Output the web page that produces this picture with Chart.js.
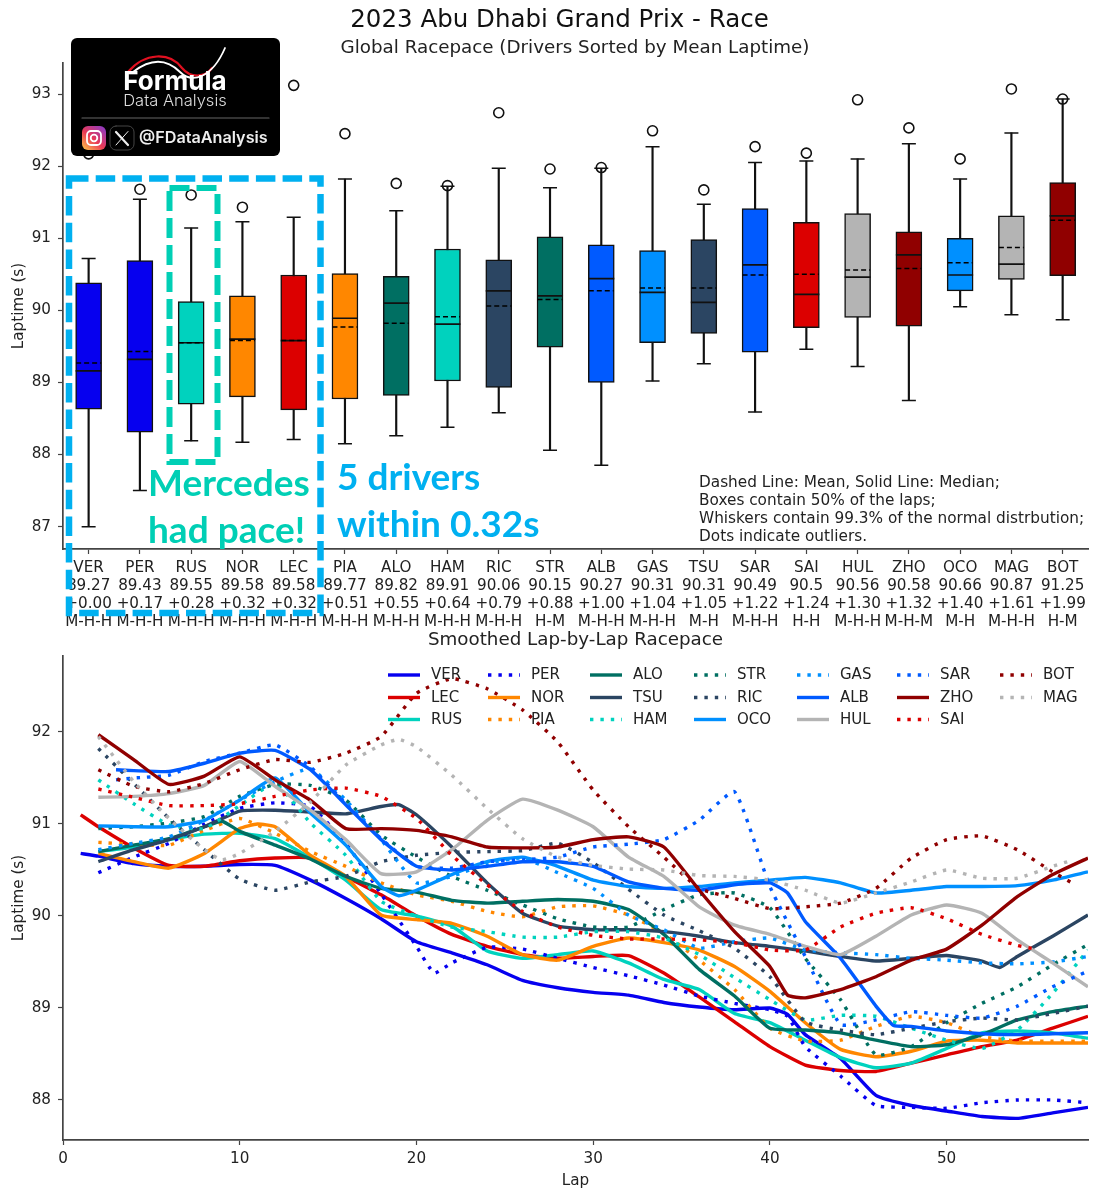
<!DOCTYPE html>
<html>
<head>
<meta charset="utf-8">
<title>2023 Abu Dhabi Grand Prix - Race</title>
<script src="https://cdn.jsdelivr.net/npm/chart.js@4"></script>
<style>
  html, body { margin: 0; padding: 0; background: #fff; }
  #page { position: relative; width: 1099px; height: 1200px; overflow: hidden; }
  /* a little wider than the page: the category axis keeps 15px free on its right */
  #boxWrap { position: absolute; left: 0; top: 0; width: 1103px; height: 632px; z-index: 2; }
  #lineWrap { position: absolute; left: 0; top: 628px; width: 1099px; height: 572px; z-index: 1; }
</style>
</head>
<body>
<div id="page">
  <div id="lineWrap"><canvas id="lineChart"></canvas></div>
  <div id="boxWrap"><canvas id="boxChart"></canvas></div>
</div>
<script>
// top panel, drivers sorted by mean laptime
const drivers = ["VER","PER","RUS","NOR","LEC","PIA","ALO","HAM","RIC","STR","ALB","GAS","TSU","SAR","SAI","HUL","ZHO","OCO","MAG","BOT"];
const meanLaps = [89.27,89.43,89.55,89.58,89.58,89.77,89.82,89.91,90.06,90.15,90.27,90.31,90.31,90.49,90.5,90.56,90.58,90.66,90.87,91.25];
const gaps = ["+0.00","+0.17","+0.28","+0.32","+0.32","+0.51","+0.55","+0.64","+0.79","+0.88","+1.00","+1.04","+1.05","+1.22","+1.24","+1.30","+1.32","+1.40","+1.61","+1.99"];
const strategies = ["M-H-H","M-H-H","M-H-H","M-H-H","M-H-H","M-H-H","M-H-H","M-H-H","M-H-H","H-M","M-H-H","M-H-H","M-H","M-H-H","H-H","M-H-H","M-H-M","M-H","M-H-H","H-M"];
const q1 = [88.63,88.31,88.70,88.80,88.62,88.77,88.82,89.02,88.93,89.49,89.00,89.55,89.68,89.42,89.76,89.90,89.78,90.27,90.43,90.48];
const q3 = [90.38,90.69,90.12,90.20,90.49,90.51,90.47,90.85,90.70,91.02,90.91,90.83,90.98,91.41,91.22,91.34,91.09,91.00,91.31,91.77];
const medians = [89.16,89.32,89.55,89.60,89.58,89.89,90.10,89.81,90.27,90.20,90.44,90.25,90.11,90.63,90.22,90.46,90.77,90.49,90.64,91.31];
const whiskLow = [87.00,87.50,88.19,88.17,88.21,88.15,88.26,88.38,88.58,88.06,87.85,89.02,89.26,88.59,89.46,89.22,88.75,90.05,89.94,89.87];
const whiskHigh = [90.72,91.54,91.14,91.23,91.29,91.82,91.38,91.72,91.97,91.70,91.97,92.27,91.47,92.05,92.07,92.10,92.31,91.82,92.46,92.93];
const outliers = [92.17,91.68,91.60,91.43,93.12,92.45,91.76,91.73,92.74,91.96,91.98,92.49,91.67,92.27,92.18,92.92,92.53,92.10,93.07,92.93];
const boxTicks = [87,88,89,90,91,92,93];

const teamColor = {
  VER:"#0600EF", PER:"#0600EF", RUS:"#00D2BE", HAM:"#00D2BE", NOR:"#FF8700", PIA:"#FF8700",
  LEC:"#DC0000", SAI:"#DC0000", ALO:"#006F62", STR:"#006F62", RIC:"#2B4562", TSU:"#2B4562",
  ALB:"#005AFF", SAR:"#005AFF", GAS:"#0090FF", OCO:"#0090FF", HUL:"#B4B4B4", MAG:"#B4B4B4",
  ZHO:"#900000", BOT:"#900000"
};

// bottom panel, smoothed pace read every second lap
const lapsEven = [2,4,6,8,10,12,14,16,18,20,22,24,26,28,30,32,34,36,38,40,42,44,46,48,50,52,54,56,58];
const paceVER = [90.65,90.57,90.54,90.54,90.56,90.55,90.39,90.19,89.97,89.72,89.6,89.47,89.3,89.22,89.17,89.14,89.06,89.01,88.98,89.0,88.71,88.45,88.05,87.94,87.88,87.82,87.8,87.86,87.92];
const paceLEC = [90.97,90.74,90.55,90.54,90.6,90.63,90.63,90.43,90.23,90.0,89.8,89.67,89.58,89.54,89.56,89.57,89.38,89.12,88.85,88.58,88.38,88.32,88.31,88.4,88.49,88.58,88.65,88.78,88.91];
const paceRUS = [90.7,90.75,90.83,90.89,90.9,90.84,90.63,90.39,90.07,90.0,89.89,89.62,89.54,89.58,89.62,89.49,89.31,89.2,88.94,88.84,88.65,88.46,88.35,88.4,88.56,88.73,88.75,88.73,88.67];
const pacePER = [90.47,90.64,90.79,91.0,91.17,91.23,91.19,90.79,90.24,89.67,89.49,89.66,89.64,89.54,89.44,89.35,89.25,89.13,89.05,88.98,88.58,88.26,87.94,87.92,87.91,87.97,88.0,88.0,87.97];
const paceNOR = [90.68,90.59,90.52,90.68,90.95,90.97,90.66,90.43,90.01,89.96,89.92,89.78,89.58,89.52,89.67,89.76,89.71,89.63,89.45,89.18,88.84,88.55,88.47,88.53,88.64,88.65,88.62,88.62,88.62];
const pacePIA = [90.8,90.78,90.77,90.93,91.06,90.9,90.7,90.54,90.36,90.23,90.16,90.05,89.99,90.1,90.11,90.01,89.81,89.52,89.2,88.78,88.64,88.65,88.8,88.91,88.84,88.69,88.64,88.64,88.64];
const paceALO = [90.7,90.77,90.84,90.97,90.92,90.77,90.62,90.43,90.3,90.26,90.17,90.14,90.16,90.18,90.16,90.07,89.8,89.42,89.13,88.78,88.76,88.73,88.65,88.58,88.6,88.71,88.87,88.96,89.02];
const paceTSU = [90.59,90.72,90.83,90.97,91.14,91.15,91.13,91.11,91.19,91.1,90.75,90.36,90.03,89.89,89.85,89.85,89.83,89.78,89.71,89.67,89.62,89.56,89.51,89.54,89.57,89.51,89.56,89.78,90.01];
const paceHAM = [91.48,91.22,90.99,90.95,91.2,91.44,91.01,90.66,90.16,90.0,89.88,89.83,89.77,89.77,89.83,89.83,89.76,89.58,89.33,89.09,88.87,88.92,88.91,88.78,88.65,88.56,88.76,89.16,89.63];
const paceSTR = [90.95,90.97,91.01,91.08,91.3,91.43,91.42,91.26,90.88,90.64,90.43,90.28,90.12,89.97,89.88,89.88,90.07,90.23,90.25,90.09,89.54,89.09,88.49,88.58,88.84,89.05,89.23,89.47,89.69];
const paceRIC = [91.82,91.44,91.06,90.72,90.4,90.28,90.37,90.43,90.59,90.66,90.69,90.7,90.71,90.79,90.58,90.29,90.01,89.84,89.65,89.34,88.85,88.76,88.71,88.78,88.85,88.89,88.87,88.94,89.02];
const paceOCO = [90.98,90.97,90.97,91.04,91.26,91.5,91.12,90.77,90.32,90.28,90.45,90.59,90.64,90.54,90.39,90.32,90.3,90.32,90.36,90.39,90.42,90.36,90.25,90.28,90.32,90.32,90.33,90.39,90.48];
const paceGAS = [90.72,90.79,90.86,91.04,91.26,91.46,91.6,91.26,90.83,90.36,90.43,90.57,90.63,90.47,90.3,90.01,89.85,89.65,89.72,89.76,89.63,89.6,89.58,89.54,89.52,89.49,89.48,89.5,89.56];
const paceALB = [null,91.58,91.57,91.66,91.77,91.8,91.59,91.21,90.83,90.54,90.5,90.54,90.59,90.59,90.54,90.37,90.3,90.28,90.34,90.36,89.94,89.54,89.02,88.8,88.75,88.72,88.71,88.72,88.73];
const paceHUL = [91.29,91.3,91.33,91.42,91.68,91.41,91.15,90.83,90.46,90.48,90.72,91.04,91.27,91.15,90.97,90.64,90.43,90.1,89.9,89.8,89.67,89.58,89.78,90.01,90.12,90.03,89.74,89.49,89.23];
const paceSAR = [null,91.5,91.53,91.68,91.77,91.86,91.62,91.22,90.84,90.54,90.52,90.59,90.61,90.64,90.75,90.78,90.83,91.04,91.35,90.32,89.56,88.82,88.87,88.96,88.92,88.89,89.02,89.23,89.4];
const paceZHO = [91.97,91.7,91.43,91.52,91.73,91.48,91.26,90.95,90.95,90.93,90.86,90.75,90.74,90.75,90.83,90.86,90.75,90.28,89.83,89.45,89.11,89.2,89.34,89.52,89.64,89.9,90.21,90.45,90.63];
const paceSAI = [91.38,91.29,91.2,91.2,91.22,91.3,91.37,91.39,91.3,91.06,90.66,90.34,90.05,89.88,89.79,89.75,89.75,89.74,89.71,89.63,89.63,89.88,90.03,90.09,89.97,89.8,89.68,null,null];
const paceBOT = [91.59,91.41,91.35,91.44,91.59,91.7,91.67,91.77,91.95,92.42,92.58,92.47,92.24,91.89,91.37,90.97,90.64,90.3,90.19,90.08,90.1,90.14,90.3,90.63,90.83,90.87,90.72,90.48,null];
const paceMAG = [91.95,91.46,91.06,90.72,90.68,90.92,91.24,91.64,91.86,91.84,91.53,91.17,90.84,90.64,90.55,90.51,90.5,90.44,90.43,90.39,90.28,90.14,90.25,90.37,90.5,90.41,90.41,90.54,null];

// odd laps where a line starts, ends or turns
const oddLaps = {
  VER: [[1,90.68],[41,88.93]],
  LEC: [[1,91.1]],
  PER: [[21,89.38],[41,88.91]],
  NOR: [[11,91.0]],
  ALO: [[9,91.03]],
  TSU: [[19,91.21],[53,89.44]],
  OCO: [[19,90.22]],
  ALB: [[3,91.59],[41,90.25],[47,88.81]],
  SAR: [[3,91.48]],
  ZHO: [[41,89.14]],
  SAI: [[55,89.64]],
  BOT: [[57,90.37]],
  MAG: [[9,90.61],[19,91.92],[57,90.6]]
};

const lineDrivers = ["VER","LEC","RUS","PER","NOR","PIA","ALO","TSU","HAM","STR","RIC","OCO","GAS","ALB","HUL","SAR","ZHO","SAI","BOT","MAG"];
const lineValues = [paceVER,paceLEC,paceRUS,pacePER,paceNOR,pacePIA,paceALO,paceTSU,paceHAM,paceSTR,paceRIC,paceOCO,paceGAS,paceALB,paceHUL,paceSAR,paceZHO,paceSAI,paceBOT,paceMAG];
const dottedDrivers = ["PER","PIA","HAM","STR","RIC","GAS","SAR","SAI","BOT","MAG"];
const lapTicks = [0,10,20,30,40,50];
const paceTicks = [88,89,90,91,92];

const FONT = "'DejaVu Sans', sans-serif";
const INK = "#222";
const AXIS = "#444";
Chart.defaults.font.family = FONT;
Chart.defaults.font.size = 15.2;
Chart.defaults.color = INK;
Chart.defaults.animation = false;

function text(ctx, str, x, y, font, color, align) {
  ctx.font = font;
  ctx.fillStyle = color;
  ctx.textAlign = align || "left";
  ctx.textBaseline = "middle";
  ctx.fillText(str, x, y);
}

function dashedBox(ctx, x0, y0, x1, y1, color, width, on, off) {
  ctx.save();
  ctx.strokeStyle = color;
  ctx.lineWidth = width;
  ctx.setLineDash([on, off]);
  ctx.strokeRect(x0, y0, x1 - x0, y1 - y0);
  ctx.restore();
}

function drawLogo(ctx) {
  ctx.save();
  ctx.fillStyle = "#000";
  ctx.beginPath();
  ctx.roundRect(71, 38, 209, 118, 6);
  ctx.fill();

  // swoosh
  ctx.lineCap = "round";
  ctx.strokeStyle = "#e01020";
  ctx.lineWidth = 2.2;
  ctx.beginPath();
  ctx.moveTo(128, 72);
  ctx.bezierCurveTo(145, 52, 170, 52, 182, 68);
  ctx.bezierCurveTo(190, 78, 205, 78, 212, 68);
  ctx.stroke();
  ctx.strokeStyle = "#fff";
  ctx.lineWidth = 1.8;
  ctx.beginPath();
  ctx.moveTo(133, 72);
  ctx.bezierCurveTo(155, 55, 170, 62, 180, 72);
  ctx.bezierCurveTo(192, 84, 212, 78, 225, 48);
  ctx.stroke();

  text(ctx, "Formula", 175, 82, "700 26px Inter, sans-serif", "#fff", "center");
  text(ctx, "Data Analysis", 175, 101, "300 16.5px Inter, sans-serif", "#ddd", "center");

  ctx.strokeStyle = "#666";
  ctx.lineWidth = 1.2;
  ctx.beginPath();
  ctx.moveTo(82, 118);
  ctx.lineTo(269, 118);
  ctx.stroke();

  // instagram
  const g = ctx.createLinearGradient(84, 150, 104, 126);
  g.addColorStop(0, "#fdc04a");
  g.addColorStop(0.45, "#ea3a55");
  g.addColorStop(1, "#8a3ac8");
  ctx.fillStyle = g;
  ctx.beginPath();
  ctx.roundRect(82, 126, 24, 24, 6);
  ctx.fill();
  ctx.strokeStyle = "#fff";
  ctx.lineWidth = 1.8;
  ctx.beginPath();
  ctx.roundRect(87, 131, 14, 14, 4);
  ctx.stroke();
  ctx.beginPath();
  ctx.arc(94, 138, 3.3, 0, Math.PI * 2);
  ctx.stroke();

  // x
  ctx.strokeStyle = "#444";
  ctx.lineWidth = 1;
  ctx.beginPath();
  ctx.roundRect(110, 126, 24, 24, 6);
  ctx.stroke();
  ctx.strokeStyle = "#eee";
  ctx.lineWidth = 2.2;
  ctx.beginPath();
  ctx.moveTo(116, 132);
  ctx.lineTo(128, 145);
  ctx.stroke();
  ctx.lineWidth = 1;
  ctx.beginPath();
  ctx.moveTo(128, 131.5);
  ctx.lineTo(116, 145);
  ctx.stroke();

  text(ctx, "@FDataAnalysis", 139, 138, "600 16.2px Inter, sans-serif", "#eee");
  ctx.restore();
}

// dashed mean lines, written in pixels through the chart's scales
const meanLinesPlugin = {
  id: "meanLines",
  afterDatasetsDraw(chart) {
    const { ctx, scales } = chart;
    ctx.save();
    ctx.strokeStyle = "#000";
    ctx.lineWidth = 1.5;
    ctx.setLineDash([5, 3]);
    meanLaps.forEach((m, i) => {
      const x = scales.x.getPixelForValue(i);
      const y = scales.y.getPixelForValue(m);
      ctx.beginPath();
      ctx.moveTo(x - 12.5, y);
      ctx.lineTo(x + 12.5, y);
      ctx.stroke();
    });
    ctx.restore();
  }
};

const boxNotesPlugin = {
  id: "boxNotes",
  afterDraw(chart) {
    const ctx = chart.ctx;
    ctx.save();
    text(ctx, "2023 Abu Dhabi Grand Prix - Race", 559.5, 21, "24.5px " + FONT, "#111", "center");
    text(ctx, "Global Racepace (Drivers Sorted by Mean Laptime)", 575, 48, "18.3px " + FONT, "#222", "center");

    const noteFont = "15.3px " + FONT;
    text(ctx, "Dashed Line: Mean, Solid Line: Median;", 699, 483, noteFont, INK);
    text(ctx, "Boxes contain 50% of the laps;", 699, 501, noteFont, INK);
    text(ctx, "Whiskers contain 99.3% of the normal distrbution;", 699, 519, noteFont, INK);
    text(ctx, "Dots indicate outliers.", 699, 537, noteFont, INK);

    dashedBox(ctx, 69, 178.5, 320.5, 613, "#00B0F0", 6.5, 19.5, 7.2);
    dashedBox(ctx, 169.5, 188, 217.5, 462, "#00CFB5", 6, 20, 7);

    const callFont = "700 37px Lato, sans-serif";
    text(ctx, "Mercedes", 148, 484, callFont, "#00CFB5");
    text(ctx, "had pace!", 148, 531, callFont, "#00CFB5");
    text(ctx, "5 drivers", 337, 478, callFont, "#00B0F0");
    text(ctx, "within 0.32s", 337, 525, callFont, "#00B0F0");

    drawLogo(ctx);
    ctx.restore();
  }
};

new Chart(document.getElementById("boxChart"), {
  type: "bar",
  data: {
    labels: drivers.map((d, i) => [d, String(meanLaps[i]), gaps[i], strategies[i]]),
    datasets: [
      {
        label: "whiskers",
        data: drivers.map((d, i) => [whiskLow[i], whiskHigh[i]]),
        backgroundColor: "#111",
        barThickness: 1.5,
        grouped: false,
        order: 3
      },
      {
        label: "boxes",
        data: drivers.map((d, i) => [q1[i], q3[i]]),
        backgroundColor: drivers.map(d => teamColor[d]),
        borderColor: "#111",
        borderWidth: 1.5,
        borderSkipped: false,
        barThickness: 26,
        grouped: false,
        order: 2
      },
      { type: "line", label: "median", data: medians, showLine: false, pointStyle: "line", pointRadius: 13, pointBorderColor: "#111", pointBorderWidth: 1.7, order: 1 },
      { type: "line", label: "low cap", data: whiskLow, showLine: false, pointStyle: "line", pointRadius: 7, pointBorderColor: "#111", pointBorderWidth: 1.5, order: 1 },
      { type: "line", label: "high cap", data: whiskHigh, showLine: false, pointStyle: "line", pointRadius: 7, pointBorderColor: "#111", pointBorderWidth: 1.5, order: 1 },
      { type: "line", label: "outliers", data: outliers, showLine: false, pointStyle: "circle", pointRadius: 5, pointBackgroundColor: "transparent", pointBorderColor: "#111", pointBorderWidth: 1.6, order: 0 }
    ]
  },
  options: {
    responsive: true,
    maintainAspectRatio: false,
    layout: { padding: { top: 63, right: 11 } },
    plugins: { legend: { display: false }, tooltip: { enabled: false } },
    scales: {
      x: {
        grid: { offset: false, drawOnChartArea: false, tickLength: 5, tickColor: AXIS, tickWidth: 1.2 },
        border: { color: AXIS, width: 1.7 },
        ticks: { autoSkip: false, maxRotation: 0, minRotation: 0, padding: 5.5, font: { size: 15.2, lineHeight: 1.184 } },
        afterFit: s => { s.height = 83; s.paddingLeft = 0; s.paddingRight = 0; }
      },
      y: {
        min: 86.69,
        max: 93.43,
        grid: { drawOnChartArea: false, tickLength: 5, tickColor: AXIS, tickWidth: 1.2 },
        border: { color: AXIS, width: 1.7 },
        ticks: { stepSize: 1, includeBounds: false, autoSkip: false, padding: 7 },
        title: { display: true, text: "Laptime (s)", padding: { top: 10, bottom: 0 }, font: { size: 15.2 } },
        afterBuildTicks: s => { s.ticks = boxTicks.map(v => ({ value: v })); },
        afterFit: s => { s.width = 63; }
      }
    }
  },
  plugins: [meanLinesPlugin, boxNotesPlugin]
});

function lineData(code, values) {
  const pts = [];
  lapsEven.forEach((lap, i) => {
    if (values[i] !== null) pts.push({ x: lap, y: values[i] });
  });
  (oddLaps[code] || []).forEach(p => pts.push({ x: p[0], y: p[1] }));
  return pts.sort((a, b) => a.x - b.x);
}

// legend columns as in the reference, filled top to bottom
const legendColumns = [
  { handle: 388, label: 431, codes: ["VER","LEC","RUS"] },
  { handle: 488, label: 531, codes: ["PER","NOR","PIA"] },
  { handle: 590, label: 633, codes: ["ALO","TSU","HAM"] },
  { handle: 694, label: 737, codes: ["STR","RIC","OCO"] },
  { handle: 797, label: 840, codes: ["GAS","ALB","HUL"] },
  { handle: 897, label: 940, codes: ["SAR","ZHO","SAI"] },
  { handle: 1000, label: 1043, codes: ["BOT","MAG"] }
];
const legendRows = [47, 69.5, 91.5];

const lineNotesPlugin = {
  id: "lineNotes",
  afterDraw(chart) {
    const ctx = chart.ctx;
    ctx.save();
    text(ctx, "Smoothed Lap-by-Lap Racepace", 575.5, 12, "18.3px " + FONT, "#222", "center");
    legendColumns.forEach(col => {
      col.codes.forEach((code, r) => {
        const y = legendRows[r];
        ctx.strokeStyle = teamColor[code];
        ctx.lineWidth = 3.4;
        ctx.setLineDash(dottedDrivers.includes(code) ? [3.4, 7] : []);
        ctx.beginPath();
        ctx.moveTo(col.handle, y);
        ctx.lineTo(col.handle + 32, y);
        ctx.stroke();
        ctx.setLineDash([]);
        text(ctx, code, col.label, y + 0.5, "15px " + FONT, INK);
      });
    });
    ctx.restore();
  }
};

new Chart(document.getElementById("lineChart"), {
  type: "line",
  data: {
    datasets: lineDrivers.map((code, i) => ({
      label: code,
      data: lineData(code, lineValues[i]),
      borderColor: teamColor[code],
      borderWidth: 3.4,
      borderDash: dottedDrivers.includes(code) ? [3.4, 7] : [],
      tension: 0.15,
      pointRadius: 0,
      fill: false,
      order: -i
    }))
  },
  options: {
    responsive: true,
    maintainAspectRatio: false,
    layout: { padding: { top: 28, right: 11 } },
    plugins: { legend: { display: false }, tooltip: { enabled: false } },
    scales: {
      x: {
        type: "linear",
        min: 0,
        max: 58,
        grid: { drawOnChartArea: false, tickLength: 5, tickColor: AXIS, tickWidth: 1.2 },
        border: { color: AXIS, width: 1.7 },
        ticks: { stepSize: 10, includeBounds: false, autoSkip: false, maxRotation: 0, padding: 5 },
        title: { display: true, text: "Lap", padding: { top: 0, bottom: 10 }, font: { size: 15.2 } },
        afterBuildTicks: s => { s.ticks = lapTicks.map(v => ({ value: v })); },
        afterFit: s => { s.height = 60; }
      },
      y: {
        min: 87.565,
        max: 92.826,
        grid: { drawOnChartArea: false, tickLength: 5, tickColor: AXIS, tickWidth: 1.2 },
        border: { color: AXIS, width: 1.7 },
        ticks: { stepSize: 1, includeBounds: false, autoSkip: false, padding: 7 },
        title: { display: true, text: "Laptime (s)", padding: { top: 10, bottom: 0 }, font: { size: 15.2 } },
        afterBuildTicks: s => { s.ticks = paceTicks.map(v => ({ value: v })); },
        afterFit: s => { s.width = 63; }
      }
    }
  },
  plugins: [lineNotesPlugin]
});
</script>
</body>
</html>
